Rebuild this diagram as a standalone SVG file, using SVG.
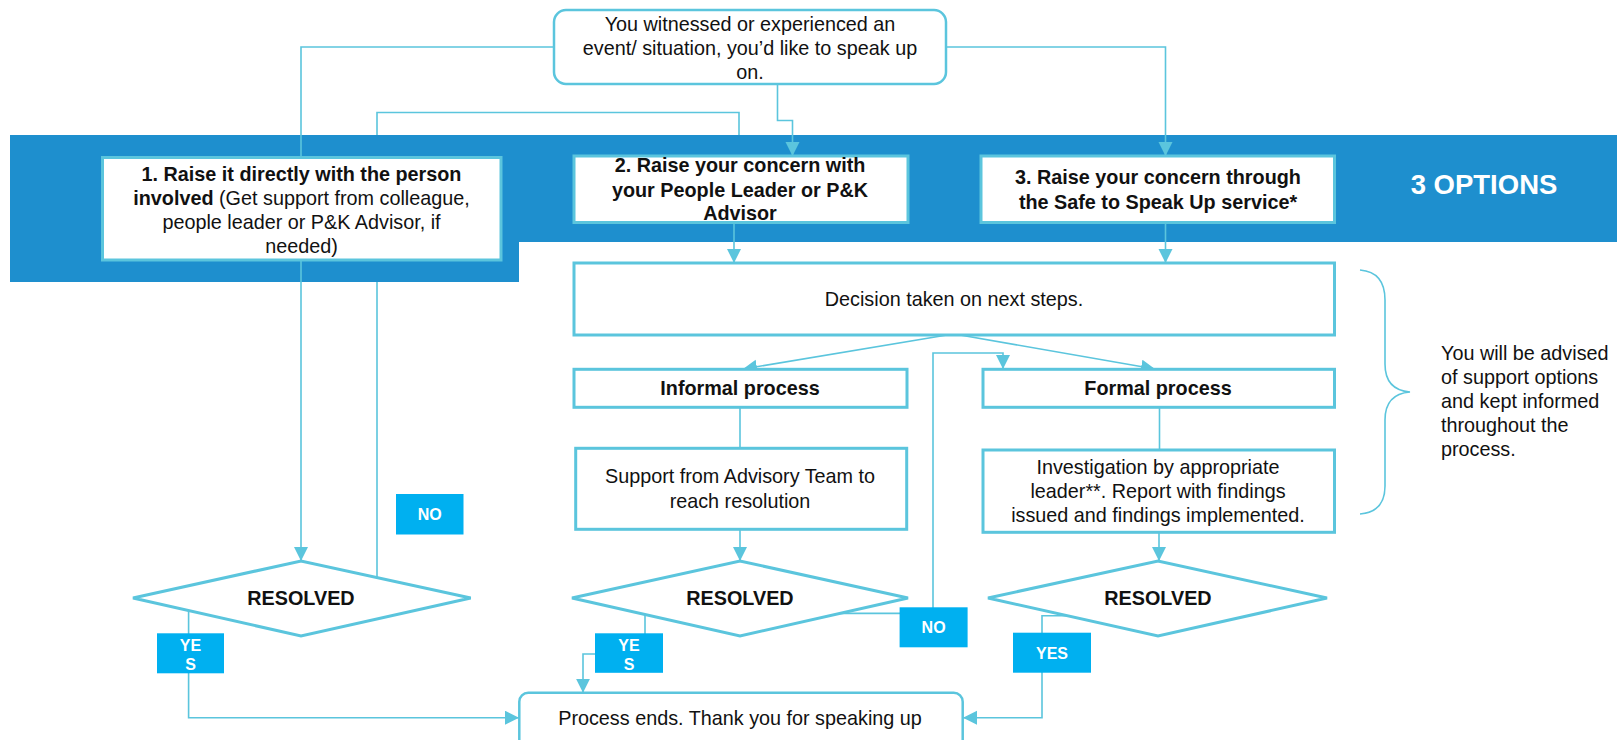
<svg xmlns="http://www.w3.org/2000/svg" width="1617" height="740" viewBox="0 0 1617 740">
<style>
  text{font-family:"Liberation Sans",Arial,sans-serif;fill:#111;}
  .t{font-size:19.8px;text-anchor:middle;}
  .b{font-weight:bold;}
  .box{fill:#fff;stroke:#5BC5DD;stroke-width:3;}
  .rbox{fill:#fff;stroke:#5BC5DD;stroke-width:2.5;}
  .con{fill:none;stroke:#5BC5DD;stroke-width:1.6;}
  .lbl{fill:#00B0F0;}
  .lt{font-size:16px;font-weight:bold;fill:#fff;text-anchor:middle;}
</style>
<defs>
  <marker id="arr" markerUnits="userSpaceOnUse" markerWidth="15" markerHeight="15" refX="14" refY="7" orient="auto">
    <path d="M0,0 L14,7 L0,14 Z" fill="#5BC5DD"/>
  </marker>
</defs>
<rect width="1617" height="740" fill="#fff"/>

<!-- loop connector drawn under the band -->
<g id="connectors-under">
  <path class="con" d="M377,577 V112.5 H739 V156"/>
</g>

<g id="band">
  <path d="M10,135 H1617 V242 H519 V282 H10 Z" fill="#1E8FCE"/>
  <text x="1484" y="194" font-size="27.5" font-weight="bold" text-anchor="middle" style="fill:#fff">3 OPTIONS</text>
</g>

<g id="connectors">
  <path class="con" d="M554,47 H301 V561" marker-end="url(#arr)"/>
  <path class="con" d="M946,47 H1165.5 V156" marker-end="url(#arr)"/>
  <path class="con" d="M777.5,84 V120.5 H792.5 V156" marker-end="url(#arr)"/>
  <path class="con" d="M734,223 V263" marker-end="url(#arr)"/>
  <path class="con" d="M1165.5,223 V263" marker-end="url(#arr)"/>
  <path class="con" d="M947,335 L743,369" marker-end="url(#arr)"/>
  <path class="con" d="M960,335 L1155,369" marker-end="url(#arr)"/>
  <path class="con" d="M740,407 V448"/>
  <path class="con" d="M1159.5,407 V450"/>
  <path class="con" d="M740,529 V561" marker-end="url(#arr)"/>
  <path class="con" d="M1159,532 V561" marker-end="url(#arr)"/>
  <path class="con" d="M188.6,610.6 V717.7 H519" marker-end="url(#arr)"/>
  <path class="con" d="M645,614.5 V654 H583 V692.7" marker-end="url(#arr)"/>
  <path class="con" d="M840,613.4 H933 V353 H1003 V369" marker-end="url(#arr)"/>
  <path class="con" d="M1067,615.7 H1042 V717.7 H963" marker-end="url(#arr)"/>
  <path class="con" d="M1360,270 Q1385,272 1385,300 V364 Q1385,390 1410,392 Q1385,394 1385,420 V486 Q1385,512 1360,514"/>
</g>

<g id="start">
  <rect class="rbox" x="554" y="10" width="392" height="74" rx="12"/>
  <text class="t" x="750" y="31">You witnessed or experienced an</text>
  <text class="t" x="750" y="55">event/ situation, you’d like to speak up</text>
  <text class="t" x="750" y="79">on.</text>
</g>

<g id="option1">
  <rect class="box" x="102.5" y="157.5" width="398.5" height="102.5"/>
  <text class="t b" x="301.5" y="181">1. Raise it directly with the person</text>
  <text class="t" x="301.5" y="205"><tspan font-weight="bold">involved</tspan> (Get support from colleague,</text>
  <text class="t" x="301.5" y="229">people leader or P&amp;K Advisor, if</text>
  <text class="t" x="301.5" y="253">needed)</text>
</g>

<g id="option2">
  <rect class="box" x="574" y="156" width="334" height="66.5"/>
  <text class="t b" x="740" y="172">2. Raise your concern with</text>
  <text class="t b" x="740" y="196.5">your People Leader or P&amp;K</text>
  <text class="t b" x="740" y="220">Advisor</text>
</g>

<g id="option3">
  <rect class="box" x="981" y="156" width="353.5" height="66.5"/>
  <text class="t b" x="1158" y="184">3. Raise your concern through</text>
  <text class="t b" x="1158" y="209">the Safe to Speak Up service*</text>
</g>

<g id="decision">
  <rect class="box" x="574" y="263" width="760.5" height="72"/>
  <text class="t" x="954" y="306">Decision taken on next steps.</text>
</g>

<g id="informal">
  <rect class="box" x="574" y="369.3" width="333" height="38"/>
  <text class="t b" x="740" y="395">Informal process</text>
</g>

<g id="formal">
  <rect class="box" x="983" y="369.3" width="351.5" height="38"/>
  <text class="t b" x="1158" y="395">Formal process</text>
</g>

<g id="support">
  <rect class="box" x="575.7" y="448.3" width="331" height="81"/>
  <text class="t" x="740" y="483.3">Support from Advisory Team to</text>
  <text class="t" x="740" y="507.7">reach resolution</text>
</g>

<g id="investigation">
  <rect class="box" x="983" y="450" width="351.5" height="82.3"/>
  <text class="t" x="1158" y="474.3">Investigation by appropriate</text>
  <text class="t" x="1158" y="498.3">leader**. Report with findings</text>
  <text class="t" x="1158" y="521.7">issued and findings implemented.</text>
</g>

<g id="resolved1">
  <polygon class="box" points="133,598 301,561 470.7,598 301,636"/>
  <text class="t b" x="301" y="605">RESOLVED</text>
</g>
<g id="resolved2">
  <polygon class="box" points="572,598 740,561 908,598 740,636"/>
  <text class="t b" x="740" y="605">RESOLVED</text>
</g>
<g id="resolved3">
  <polygon class="box" points="988,598 1158,561 1327,598 1158,636"/>
  <text class="t b" x="1158" y="605">RESOLVED</text>
</g>

<g id="no1">
  <rect class="lbl" x="396" y="494" width="67.5" height="40.5"/>
  <text class="lt" x="429.7" y="520">NO</text>
</g>
<g id="yes1">
  <rect class="lbl" x="157" y="633.3" width="67" height="40"/>
  <text class="lt" x="190.5" y="650.5">YE</text>
  <text class="lt" x="190.5" y="669.5">S</text>
</g>
<g id="yes2">
  <rect class="lbl" x="595" y="633.3" width="68" height="39.5"/>
  <text class="lt" x="629" y="650.5">YE</text>
  <text class="lt" x="629" y="669.5">S</text>
</g>
<g id="no2">
  <rect class="lbl" x="899.6" y="607.3" width="68" height="40"/>
  <text class="lt" x="933.6" y="633">NO</text>
</g>
<g id="yes3">
  <rect class="lbl" x="1013" y="632.7" width="78" height="40"/>
  <text class="lt" x="1052" y="659">YES</text>
</g>

<g id="end">
  <rect class="rbox" x="519.3" y="692.7" width="443.4" height="60" rx="9"/>
  <text class="t" x="740" y="725">Process ends. Thank you for speaking up</text>
</g>

<g id="note">
  <text x="1441" y="360" font-size="19.8">You will be advised</text>
  <text x="1441" y="384" font-size="19.8">of support options</text>
  <text x="1441" y="408" font-size="19.8">and kept informed</text>
  <text x="1441" y="432" font-size="19.8">throughout the</text>
  <text x="1441" y="456" font-size="19.8">process.</text>
</g>
</svg>
